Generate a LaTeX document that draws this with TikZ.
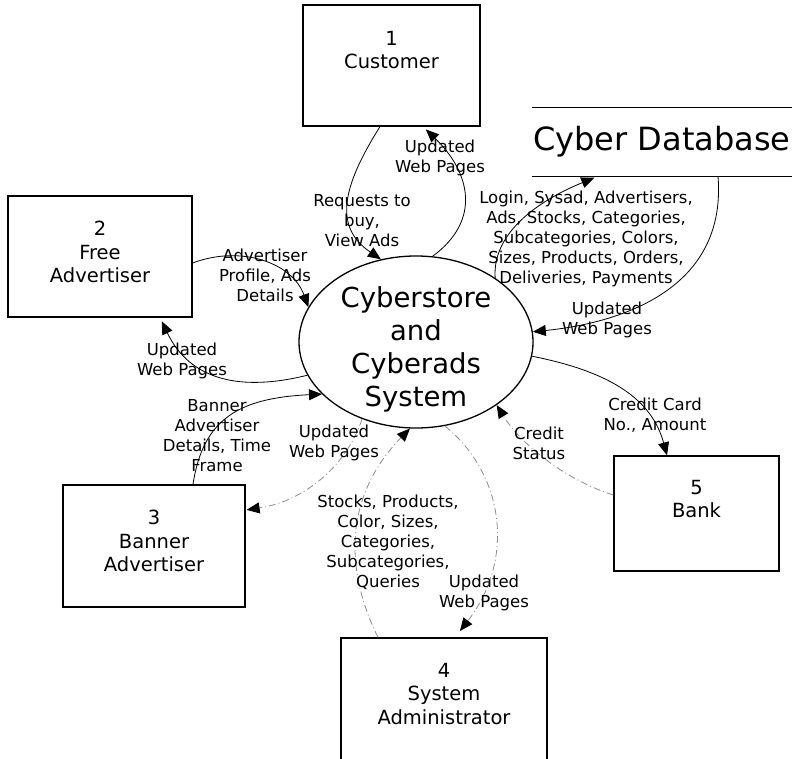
\documentclass[tikz,border=0pt]{standalone}
\usepackage{fontspec}
\setmainfont{DejaVu Sans}
\usetikzlibrary{arrows.meta,shapes.geometric}

\begin{document}
\begin{tikzpicture}[x=1pt,y=-1pt,
  entity/.style={draw, line width=1.3pt, inner sep=0pt},
  boxtext/.style={font=\fontsize{19.5}{23.5}\selectfont, align=center, inner sep=0pt, anchor=north},
  flowlabel/.style={font=\fontsize{16.5}{20}\selectfont, align=center, inner sep=0pt},
  flow/.style={line width=0.8pt, -{Triangle[length=13pt,width=11pt,color=black]}},
  faintflow/.style={flow, draw=black!45, dash pattern=on 7pt off 3pt on 1pt off 3pt},
]
\useasboundingbox (0,0) rectangle (803,759);
\begin{scope}
\clip (0,0) rectangle (803,759);

% external entities
\node[entity, minimum width=177pt, minimum height=121pt] (cust)   at (391.5,65.5) {};
\node[entity, minimum width=184pt, minimum height=121pt] (free)   at (100,256.5)  {};
\node[entity, minimum width=182pt, minimum height=122pt] (banner) at (154,546)    {};
\node[entity, minimum width=206pt, minimum height=124pt] (admin)  at (444,700)    {};
\node[entity, minimum width=165pt, minimum height=115pt] (bank)   at (696.5,513.5){};

\node[boxtext] (custt)   at (391.5,31) {1\\Customer};
\node[boxtext] (freet)   at (100,221)  {2\\Free\\Advertiser};
\node[boxtext] (bannert) at (154,510)  {3\\Banner\\Advertiser};
\node[boxtext] (admint)  at (444,663)  {4\\System\\Administrator};
\node[boxtext] (bankt)   at (696.5,480){5\\Bank};

% data store
\node[minimum width=260pt, minimum height=68pt, inner sep=0pt,
      font=\fontsize{32}{38}\selectfont] (db) at (662,142) {Cyber Database};
\draw[line width=1.3pt] (db.north west) -- (db.north east);
\draw[line width=1.3pt] (db.south west) -- (db.south east);

% central process
\node[draw, ellipse, line width=1.3pt, minimum width=234pt, minimum height=172pt, inner sep=0pt] (sys) at (416,342) {};
\node[font=\fontsize{27.5}{33}\selectfont, align=center, inner sep=0pt] (syst) at (416,349)
  {Cyberstore\\and\\Cyberads\\System};

% data flows
\draw[flow] ([xshift=-11.5pt]cust.south) .. controls (340,190) and (335,228) .. (sys.113);
\draw[flow, shorten >=4pt] (sys.79) .. controls (482,220) and (470,172) .. ([xshift=31.5pt]cust.south);
\draw[flow, shorten >=4pt] (sys.39) .. controls (492,232) and (540,200) .. ([xshift=-64pt]db.south);
\draw[flow] ([xshift=56pt]db.south) .. controls (728,300) and (600,325) .. (sys.5);
\draw[flow] ([yshift=-6.5pt]free.east) .. controls (240,245) and (292,262) .. (sys.162);
\draw[flow, shorten >=4pt] (sys.197.5) .. controls (240,392) and (190,380) .. ([xshift=60pt]free.south);
\draw[flow] ([xshift=39pt]banner.north) .. controls (203,418) and (240,398) .. (sys.209);
\draw[faintflow, shorten >=1pt] (sys.235) .. controls (345,470) and (300,502) .. ([yshift=36pt]banner.east);
\draw[faintflow] ([xshift=-66pt]admin.north) .. controls (340,560) and (350,490) .. (sys.266);
\draw[faintflow, shorten >=8pt] (sys.289) .. controls (505,475) and (515,560) .. ([xshift=11pt]admin.north);
\draw[flow] (sys.353.5) .. controls (612,372) and (652,400) .. ([xshift=-29.5pt]bank.north);
\draw[faintflow] ([yshift=18.5pt]bank.west) .. controls (560,478) and (518,440) .. (sys.322.5);

% flow labels
\node[flowlabel] (l1)  at (362,221) {Requests to\\buy,\\View Ads};
\node[flowlabel] (l2)  at (440,158) {Updated\\Web Pages};
\node[flowlabel] (l3)  at (586,239) {Login, Sysad, Advertisers,\\Ads, Stocks, Categories,\\Subcategories, Colors,\\Sizes, Products, Orders,\\Deliveries, Payments};
\node[flowlabel] (l4)  at (607,320) {Updated\\Web Pages};
\node[flowlabel] (l5)  at (265,275) {Advertiser\\Profile, Ads\\Details};
\node[flowlabel] (l6)  at (182,361) {Updated\\Web Pages};
\node[flowlabel] (l7)  at (217,436) {Banner\\Advertiser\\Details, Time\\Frame};
\node[flowlabel] (l8)  at (334,443) {Updated\\Web Pages};
\node[flowlabel] (l9)  at (388,542) {Stocks, Products,\\Color, Sizes,\\Categories,\\Subcategories,\\Queries};
\node[flowlabel] (l10) at (484,593) {Updated\\Web Pages};
\node[flowlabel] (l11) at (655,415) {Credit Card\\No., Amount};
\node[flowlabel] (l12) at (539,443) {Credit\\Status};
\end{scope}
\end{tikzpicture}
\end{document}
